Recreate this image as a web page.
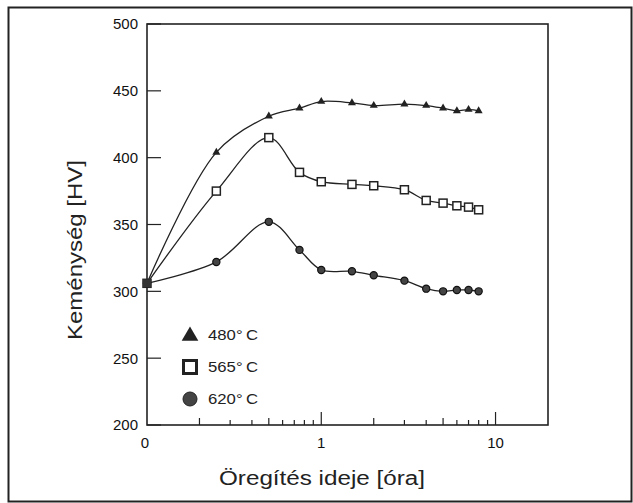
<html>
  <head>
    <meta charset="utf-8" />
    <title>Keménység</title>
    <style>
      body {
        margin: 0;
        background: #fff;
        font-family: "Liberation Sans", Arial, Helvetica, sans-serif;
      }
      svg {
        display: block;
      }
    </style>
    <script src="https://cdn.jsdelivr.net/npm/d3@7"></script>
  </head>
  <body>
    <div id="chart"></div>
    <script>
      // time in hours; the first point (0 h) is drawn at the axis origin 0.1
      const times = [0.1, 0.25, 0.5, 0.75, 1, 1.5, 2, 3, 4, 5, 6, 7, 8];
      const hv480 = [306, 404, 431, 437, 442, 441, 439, 440, 439, 437, 435, 436, 435];
      const hv565 = [306, 375, 415, 389, 382, 380, 379, 376, 368, 366, 364, 363, 361];
      const hv620 = [306, 322, 352, 331, 316, 315, 312, 308, 302, 300, 301, 301, 300];

      const seriesNames = ["480°C", "565°C", "620°C"];
      const xTickValues = [0.1, 1, 10];
      const xTickLabels = ["0", "1", "10"];
      const yTickValues = [200, 250, 300, 350, 400, 450, 500];
      const xTitle = "Öregítés ideje [óra]";
      const yTitle = "Keménység [HV]";

      const width = 633,
        height = 503;
      const margin = { left: 147, right: 85, top: 24, bottom: 78 };

      const svg = d3
        .select("#chart")
        .append("svg")
        .attr("width", width)
        .attr("height", height);

      // outer frame
      svg
        .append("rect")
        .attr("x", 8.5)
        .attr("y", 7.5)
        .attr("width", 623)
        .attr("height", 494)
        .attr("fill", "none")
        .attr("stroke", "#222")
        .attr("stroke-width", 2);

      const x = d3
        .scaleLog()
        .domain([0.1, 20])
        .range([margin.left, width - margin.right]);
      const y = d3
        .scaleLinear()
        .domain([200, 500])
        .range([height - margin.bottom, margin.top]);

      // plot box
      svg
        .append("rect")
        .attr("x", x.range()[0])
        .attr("y", y.range()[1])
        .attr("width", x.range()[1] - x.range()[0])
        .attr("height", y.range()[0] - y.range()[1])
        .attr("fill", "none")
        .attr("stroke", "#222")
        .attr("stroke-width", 1.6);

      // x axis: inward log ticks
      const minor = [];
      for (let d = 0.1; d < 20; d *= 10) {
        for (let k = 2; k <= 9; k++) if (d * k < 20) minor.push(d * k);
      }
      const xAxis = svg
        .append("g")
        .attr("transform", `translate(0,${y.range()[0]})`);
      xAxis
        .selectAll("line.minor")
        .data(minor)
        .join("line")
        .attr("class", "minor")
        .attr("x1", (d) => x(d))
        .attr("x2", (d) => x(d))
        .attr("y1", 0)
        .attr("y2", (d) => {
          const k = Math.round(d / Math.pow(10, Math.floor(Math.log10(d) + 1e-9)));
          return k === 2 || k === 5 ? -7 : -5;
        })
        .attr("stroke", "#222")
        .attr("stroke-width", 1.2);
      xAxis
        .selectAll("line.major")
        .data(xTickValues.slice(1))
        .join("line")
        .attr("class", "major")
        .attr("x1", (d) => x(d))
        .attr("x2", (d) => x(d))
        .attr("y1", 0)
        .attr("y2", -13)
        .attr("stroke", "#222")
        .attr("stroke-width", 1.2);
      xAxis
        .selectAll("text")
        .data(xTickValues)
        .join("text")
        .attr("x", (d) => x(d) - (d === 0.1 ? 2 : 0))
        .attr("y", 23)
        .attr("text-anchor", "middle")
        .attr("font-size", 15)
        .attr("fill", "#111")
        .text((d, i) => xTickLabels[i]);

      // y axis: inward ticks
      const yAxis = svg
        .append("g")
        .attr("transform", `translate(${x.range()[0]},0)`);
      yAxis
        .selectAll("line")
        .data(yTickValues)
        .join("line")
        .attr("x1", 0)
        .attr("x2", 14)
        .attr("y1", (d) => y(d))
        .attr("y2", (d) => y(d))
        .attr("stroke", "#222")
        .attr("stroke-width", 1.2);
      yAxis
        .selectAll("text")
        .data(yTickValues)
        .join("text")
        .attr("x", -9)
        .attr("y", (d) => y(d))
        .attr("dy", "0.36em")
        .attr("text-anchor", "end")
        .attr("font-size", 15)
        .attr("fill", "#111")
        .text((d) => d);

      // axis titles
      svg
        .append("text")
        .attr("x", 322)
        .attr("y", 485)
        .attr("text-anchor", "middle")
        .attr("font-size", 20)
        .attr("textLength", 206)
        .attr("lengthAdjust", "spacingAndGlyphs")
        .attr("fill", "#222")
        .text(xTitle);
      svg
        .append("text")
        .attr("transform", "translate(82,250) rotate(-90)")
        .attr("text-anchor", "middle")
        .attr("font-size", 20)
        .attr("textLength", 180)
        .attr("lengthAdjust", "spacingAndGlyphs")
        .attr("fill", "#222")
        .text(yTitle);

      // lines
      const line = d3
        .line()
        .x((d) => x(d[0]))
        .y((d) => y(d[1]))
        .curve(d3.curveCatmullRom.alpha(0.5));

      const series = [hv480, hv565, hv620].map((vals) =>
        times.map((t, i) => [t, vals[i]])
      );

      svg
        .append("g")
        .selectAll("path")
        .data(series)
        .join("path")
        .attr("d", line)
        .attr("fill", "none")
        .attr("stroke", "#222")
        .attr("stroke-width", 1.3);

      // markers
      const tri = d3.symbol().type(d3.symbolTriangle);
      svg
        .append("g")
        .selectAll("path")
        .data(series[0])
        .join("path")
        .attr("transform", (d) => `translate(${x(d[0])},${y(d[1])})`)
        .attr("d", tri.size(28)())
        .attr("fill", "#222");
      svg
        .append("g")
        .selectAll("rect")
        .data(series[1])
        .join("rect")
        .attr("x", (d) => x(d[0]) - 4)
        .attr("y", (d) => y(d[1]) - 4)
        .attr("width", 8)
        .attr("height", 8)
        .attr("fill", "#fff")
        .attr("stroke", "#222")
        .attr("stroke-width", 1.5);
      svg
        .append("g")
        .selectAll("circle")
        .data(series[2])
        .join("circle")
        .attr("cx", (d) => x(d[0]))
        .attr("cy", (d) => y(d[1]))
        .attr("r", 3.6)
        .attr("fill", "#444")
        .attr("stroke", "#111")
        .attr("stroke-width", 1.2);
      // start point overlaps all three
      svg
        .append("rect")
        .attr("x", x(times[0]) - 4)
        .attr("y", y(hv565[0]) - 4)
        .attr("width", 8)
        .attr("height", 8)
        .attr("fill", "#333");

      // legend
      const legend = svg.append("g").attr("transform", "translate(190,335)");
      const rows = legend
        .selectAll("g")
        .data(seriesNames)
        .join("g")
        .attr("transform", (d, i) => `translate(0,${i * 32})`);
      rows
        .filter((d, i) => i === 0)
        .append("path")
        .attr("d", d3.symbol().type(d3.symbolTriangle).size(120)())
        .attr("transform", "translate(0,1)")
        .attr("fill", "#222");
      rows
        .filter((d, i) => i === 1)
        .append("rect")
        .attr("x", -6.5)
        .attr("y", -6.5)
        .attr("width", 13)
        .attr("height", 13)
        .attr("fill", "#fff")
        .attr("stroke", "#222")
        .attr("stroke-width", 3);
      rows
        .filter((d, i) => i === 2)
        .append("circle")
        .attr("r", 7)
        .attr("fill", "#444")
        .attr("stroke", "#222")
        .attr("stroke-width", 1);
      rows
        .append("text")
        .attr("x", 18)
        .attr("dy", "0.36em")
        .attr("font-size", 15)
        .attr("fill", "#222")
        .attr("textLength", 50)
        .attr("lengthAdjust", "spacingAndGlyphs")
        .text((d) => d.replace("°", "°\u2009"));
    </script>
  </body>
</html>
